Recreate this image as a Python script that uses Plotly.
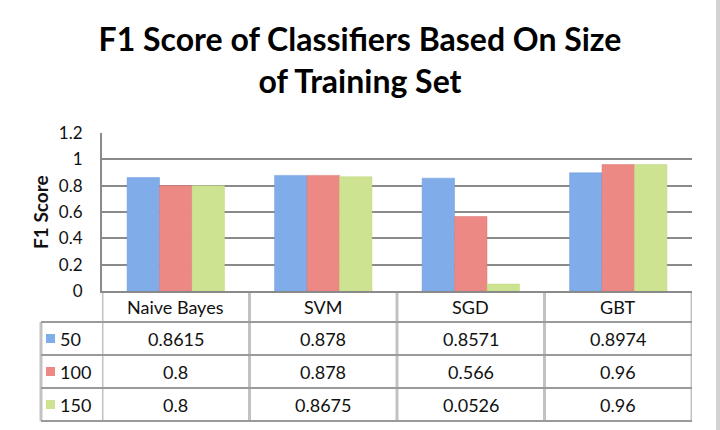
import plotly.graph_objects as go

# ---- data ----
categories = ["Naive Bayes", "SVM", "SGD", "GBT"]
series_names = ["50", "100", "150"]
scores_50 = [0.8615, 0.878, 0.8571, 0.8974]
scores_100 = [0.8, 0.878, 0.566, 0.96]
scores_150 = [0.8, 0.8675, 0.0526, 0.96]
value_labels_50 = ["0.8615", "0.878", "0.8571", "0.8974"]
value_labels_100 = ["0.8", "0.878", "0.566", "0.96"]
value_labels_150 = ["0.8", "0.8675", "0.0526", "0.96"]
y_ticks = [0, 0.2, 0.4, 0.6, 0.8, 1, 1.2]
y_tick_labels = ["0", "0.2", "0.4", "0.6", "0.8", "1", "1.2"]

series_values = [scores_50, scores_100, scores_150]
series_labels = [value_labels_50, value_labels_100, value_labels_150]
colors = ["#80acea", "#ec8984", "#cde391"]
edge_colors = ["#6f9cdc", "#dd7570", "#bcd47e"]

W, H = 720, 430
ml, mr, mt, mb = 102, 28, 133, 139
plot_w = W - ml - mr
plot_h = H - mt - mb

FONT = "Lato"
TXT = "#111111"

fig = go.Figure()
for name, vals, c, ec in zip(series_names, series_values, colors, edge_colors):
    fig.add_trace(go.Bar(x=list(range(len(categories))), y=vals, name=name,
                         marker=dict(color=c, line=dict(color=ec, width=0.5)),
                         showlegend=False))

# ---- data table below the plot (built from the arrays) ----
def py(px_below):
    return -px_below / plot_h

def px(x_pixel):
    return (x_pixel - ml) / plot_w

header_h = 31
row_h = 33
legend_left = px(41)
table_bottom = py(header_h + row_h * len(series_names))
hline_color = "#9a9a9a"
vline_color = "#c2c2c2"

shapes = []
for i in range(len(categories) + 1):
    shapes.append(dict(type="line", xref="x", yref="paper", x0=i - 0.5, x1=i - 0.5,
                       y0=0, y1=table_bottom, line=dict(color=vline_color, width=3), layer="below"))
shapes.append(dict(type="line", xref="paper", yref="paper", x0=legend_left, x1=legend_left,
                   y0=py(header_h), y1=table_bottom, line=dict(color=vline_color, width=3)))
for r in range(len(series_names) + 1):
    yy = py(header_h + row_h * r)
    shapes.append(dict(type="line", xref="paper", yref="paper", x0=legend_left, x1=1,
                       y0=yy, y1=yy, line=dict(color=hline_color, width=2)))
# window edge at right
shapes.append(dict(type="rect", xref="paper", yref="paper",
                   x0=px(716), x1=px(722), y0=-2, y1=3,
                   fillcolor="#d2d2d2", line=dict(width=0)))

annotations = []
for i, cat in enumerate(categories):
    annotations.append(dict(x=i, y=py(header_h / 2), xref="x", yref="paper", text=cat,
                            xanchor="center", yanchor="middle", showarrow=False,
                            font=dict(family=FONT, size=18, color=TXT)))
for r, (name, labels, c) in enumerate(zip(series_names, series_labels, colors)):
    yc = py(header_h + row_h * r + row_h / 2)
    for i, lab in enumerate(labels):
        annotations.append(dict(x=i, y=yc, xref="x", yref="paper", text=lab,
                                xanchor="center", yanchor="middle", showarrow=False,
                                font=dict(family=FONT, size=18, color=TXT)))
    sq = 9
    shapes.append(dict(type="rect", xref="paper", yref="paper",
                       x0=px(46), x1=px(46 + sq),
                       y0=yc - sq / 2 / plot_h, y1=yc + sq / 2 / plot_h,
                       fillcolor=c, line=dict(width=0)))
    annotations.append(dict(x=px(58), y=yc, xref="paper", yref="paper", text=name,
                            xanchor="left", yanchor="middle", showarrow=False,
                            font=dict(family=FONT, size=18, color=TXT)))

annotations.append(dict(x=px(40), y=0.5, xref="paper", yref="paper",
                        text="<b>F1 Score</b>", textangle=-90, showarrow=False,
                        xanchor="center", yanchor="middle",
                        font=dict(family=FONT, size=19, color=TXT)))

fig.update_layout(
    template="none",
    width=W, height=H,
    margin=dict(l=ml, r=mr, t=mt, b=mb, autoexpand=False),
    paper_bgcolor="white", plot_bgcolor="white",
    barmode="group", bargap=0.34, bargroupgap=0,
    title=dict(text="<b>F1 Score of Classifiers Based On Size<br>of Training Set</b>",
               x=0.5, xanchor="center", xref="container", yref="container",
               y=0.881, yanchor="top",
               font=dict(family=FONT, size=32, color="#000")),
    xaxis=dict(range=[-0.5, len(categories) - 0.5], showticklabels=False, showgrid=False,
               zeroline=False, showline=True, linecolor="#8a8a8a", linewidth=2, ticks="",
               automargin=False),
    yaxis=dict(range=[0, 1.2], tickvals=y_ticks, ticktext=y_tick_labels,
               showgrid=True, gridcolor="#8a8a8a", gridwidth=1.5, zeroline=False,
               showline=True, linecolor="#8a8a8a", linewidth=2, ticks="",
               ticklabelstandoff=14, automargin=False,
               tickfont=dict(family=FONT, size=17, color=TXT)),
    shapes=shapes, annotations=annotations,
)

fig.write_html("out.html", config={"displayModeBar": False},
               post_script="document.body.style.margin='0px';")
